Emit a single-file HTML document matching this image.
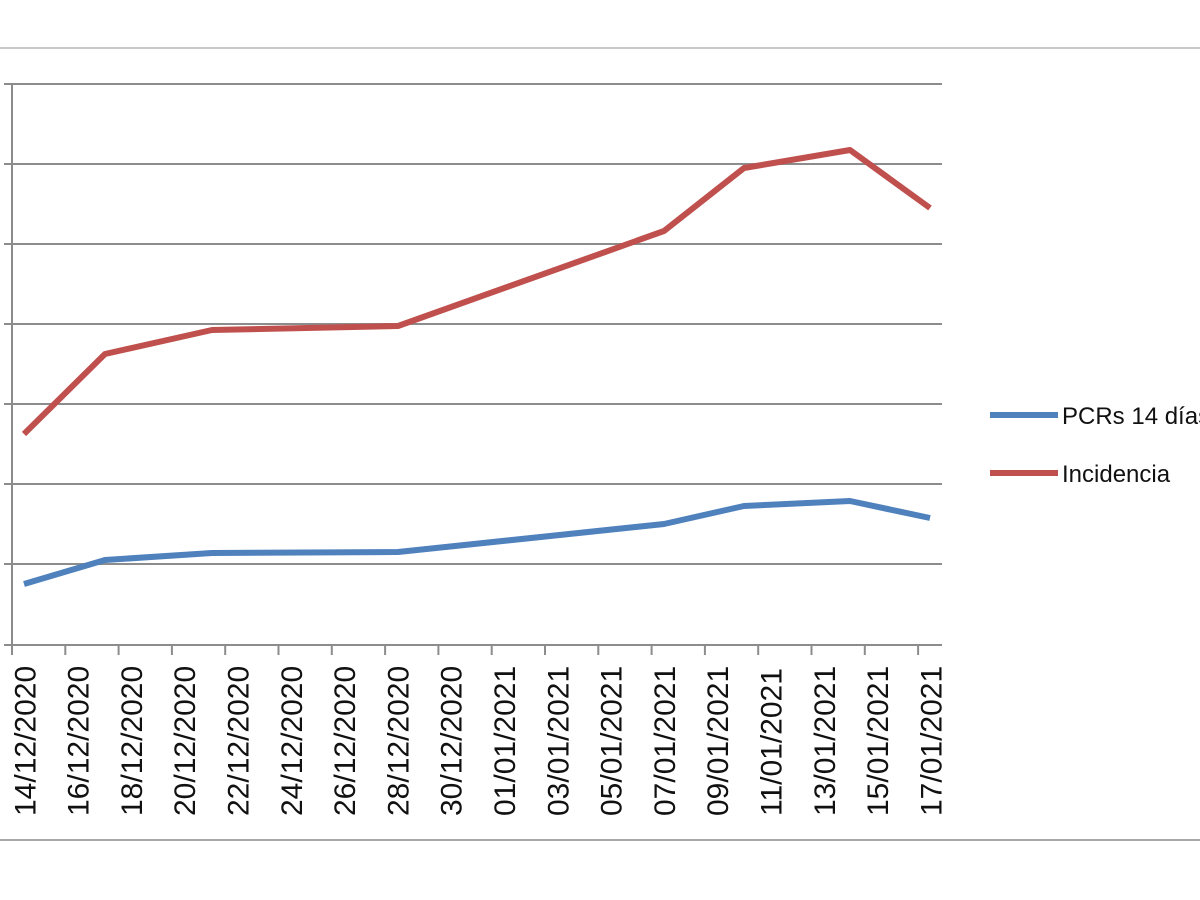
<!DOCTYPE html>
<html><head><style>body{margin:0;background:#fff}svg{display:block}</style></head><body>
<svg width="1200" height="900" xmlns="http://www.w3.org/2000/svg" font-family="Liberation Sans, sans-serif">
<line x1="0" y1="48" x2="1200" y2="48" stroke="#c8c8c8" stroke-width="2"/>
<line x1="0" y1="840" x2="1200" y2="840" stroke="#a8a8a8" stroke-width="2"/>
<g stroke="#8c8c8c" stroke-width="2">
<line x1="4" y1="84" x2="942" y2="84"/>
<line x1="4" y1="164" x2="942" y2="164"/>
<line x1="4" y1="244" x2="942" y2="244"/>
<line x1="4" y1="324" x2="942" y2="324"/>
<line x1="4" y1="404" x2="942" y2="404"/>
<line x1="4" y1="484" x2="942" y2="484"/>
<line x1="4" y1="564" x2="942" y2="564"/>
<line x1="4" y1="645" x2="942" y2="645"/>
<line x1="12" y1="84" x2="12" y2="655"/>
</g>
<g stroke="#8c8c8c" stroke-width="2" id="ticks"></g>
<g font-size="30" fill="#111" id="labels"></g>
<polyline fill="none" stroke="#c0504d" stroke-width="6" stroke-linejoin="round" points="24,434 105,354 212,330 398,326 664,231 744,168 850,150 930,208"/>
<polyline fill="none" stroke="#4f81bd" stroke-width="6" stroke-linejoin="round" points="24,584 105,560 212,553 398,552 664,524 744,506 850,501 930,518"/>
<line x1="990" y1="415" x2="1058" y2="415" stroke="#4f81bd" stroke-width="6"/>
<text x="1062" y="424" font-size="24" fill="#111">PCRs 14 días</text>
<line x1="990" y1="473" x2="1058" y2="473" stroke="#c0504d" stroke-width="6"/>
<text x="1062" y="482" font-size="24" fill="#111">Incidencia</text>
<script>
var t=document.getElementById('ticks'),l=document.getElementById('labels');
var d=['14/12/2020','16/12/2020','18/12/2020','20/12/2020','22/12/2020','24/12/2020','26/12/2020','28/12/2020','30/12/2020','01/01/2021','03/01/2021','05/01/2021','07/01/2021','09/01/2021','11/01/2021','13/01/2021','15/01/2021','17/01/2021'];
var ns='http://www.w3.org/2000/svg';
for(var i=0;i<18;i++){var x=12+i*53.3;
var ln=document.createElementNS(ns,'line');ln.setAttribute('x1',x);ln.setAttribute('x2',x);ln.setAttribute('y1',645);ln.setAttribute('y2',655);t.appendChild(ln);
var cx=x+13.3+10;var tx=document.createElementNS(ns,'text');tx.setAttribute('transform','translate('+cx+',816) rotate(-90)');tx.textContent=d[i];l.appendChild(tx);}
</script>
</svg>
</body></html>
